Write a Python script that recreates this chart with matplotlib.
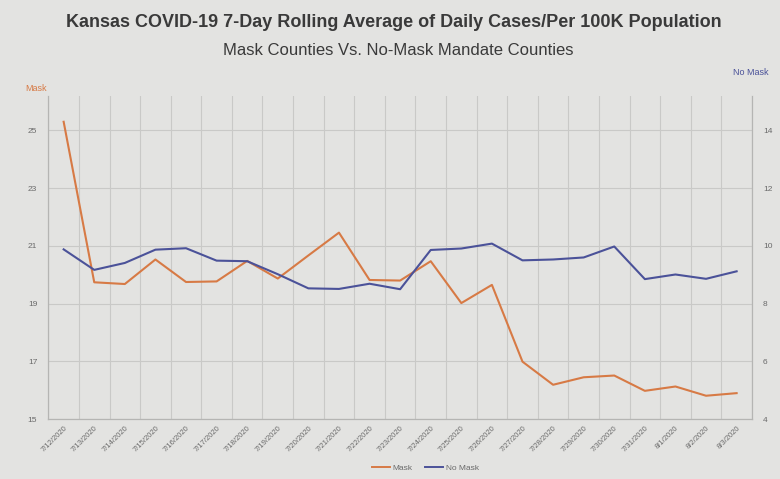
import numpy as np
import matplotlib
matplotlib.use("Agg")
import matplotlib.pyplot as plt
from matplotlib.lines import Line2D

plt.rcParams['font.family'] = ['Liberation Sans', 'DejaVu Sans']

# --- data ---
dates = ["7/12/2020", "7/13/2020", "7/14/2020", "7/15/2020", "7/16/2020", "7/17/2020",
         "7/18/2020", "7/19/2020", "7/20/2020", "7/21/2020", "7/22/2020", "7/23/2020",
         "7/24/2020", "7/25/2020", "7/26/2020", "7/27/2020", "7/28/2020", "7/29/2020",
         "7/30/2020", "7/31/2020", "8/1/2020", "8/2/2020", "8/3/2020"]
mask = [25.3, 19.74, 19.68, 20.53, 19.75, 19.77, 20.48, 19.87, 20.67, 21.46, 19.82, 19.80,
        20.47, 19.02, 19.65, 16.99, 16.19, 16.45, 16.51, 15.98, 16.13, 15.81, 15.90]
no_mask = [9.88, 9.17, 9.41, 9.87, 9.92, 9.49, 9.47, 9.02, 8.53, 8.51, 8.69, 8.50,
           9.86, 9.91, 10.08, 9.50, 9.53, 9.60, 9.98, 8.85, 9.01, 8.86, 9.12]
left_ticks = [15, 17, 19, 21, 23, 25]
right_ticks = [4, 6, 8, 10, 12, 14]

orange = '#d77a45'
blue = '#4b5299'
bg = '#e3e3e1'
grid = '#c9c9c7'
txt = '#6a6a6a'

fig = plt.figure(figsize=(7.8, 4.79), dpi=100, facecolor=bg)
ax = fig.add_axes([0.062, 0.125, 0.902, 0.675], facecolor=bg)
ax2 = ax.twinx()

x = np.arange(len(dates))
ax.plot(x, mask, color=orange, lw=1.5)
ax2.plot(x, no_mask, color=blue, lw=1.5)

ax.set_xlim(-0.5, len(dates) - 0.5)
ax.set_ylim(15, 26.2)
ax2.set_ylim(4, 15.2)
ax.set_yticks(left_ticks)
ax2.set_yticks(right_ticks)
ax.set_xticks(x)
ax.set_xticklabels(dates, rotation=45, ha='right', rotation_mode='anchor',
                   fontsize=5.5, color=txt)
ax.set_xticks(np.arange(len(dates) + 1) - 0.5, minor=True)
ax.tick_params(axis='x', which='both', length=0, pad=4)
ax.tick_params(axis='y', length=0, labelsize=6, colors=txt, pad=8)
ax2.tick_params(axis='y', length=0, labelsize=6, colors=txt, pad=8)

ax.grid(True, axis='y', color=grid, lw=0.8)
ax.grid(True, axis='x', which='minor', color=grid, lw=0.8)
ax.set_axisbelow(True)
for a in (ax, ax2):
    a.spines['top'].set_visible(False)
    for s in ('left', 'right', 'bottom'):
        a.spines[s].set_color('#b5b5b3')
        a.spines[s].set_linewidth(0.8)

fig.text(0.505, 0.952, "Kansas COVID-19 7-Day Rolling Average of Daily Cases/Per 100K Population",
         ha='center', va='center', fontsize=13, fontweight='bold', color='#3a3a3a')
fig.text(0.51, 0.895, "Mask Counties Vs. No-Mask Mandate Counties",
         ha='center', va='center', fontsize=12, color='#3a3a3a')
fig.text(0.032, 0.815, "Mask", ha='left', va='center', fontsize=6.5, color=orange)
fig.text(0.985, 0.848, "No Mask", ha='right', va='center', fontsize=6.5, color=blue)

handles = [Line2D([], [], color=orange, lw=1.4), Line2D([], [], color=blue, lw=1.4)]
fig.legend(handles, ["Mask", "No Mask"], loc='center', bbox_to_anchor=(0.545, 0.022),
           ncol=2, frameon=False, fontsize=6, labelcolor=txt, handlelength=2.2,
           handletextpad=0.3, columnspacing=1.5)

fig.savefig("out.png", dpi=100, facecolor=bg)
